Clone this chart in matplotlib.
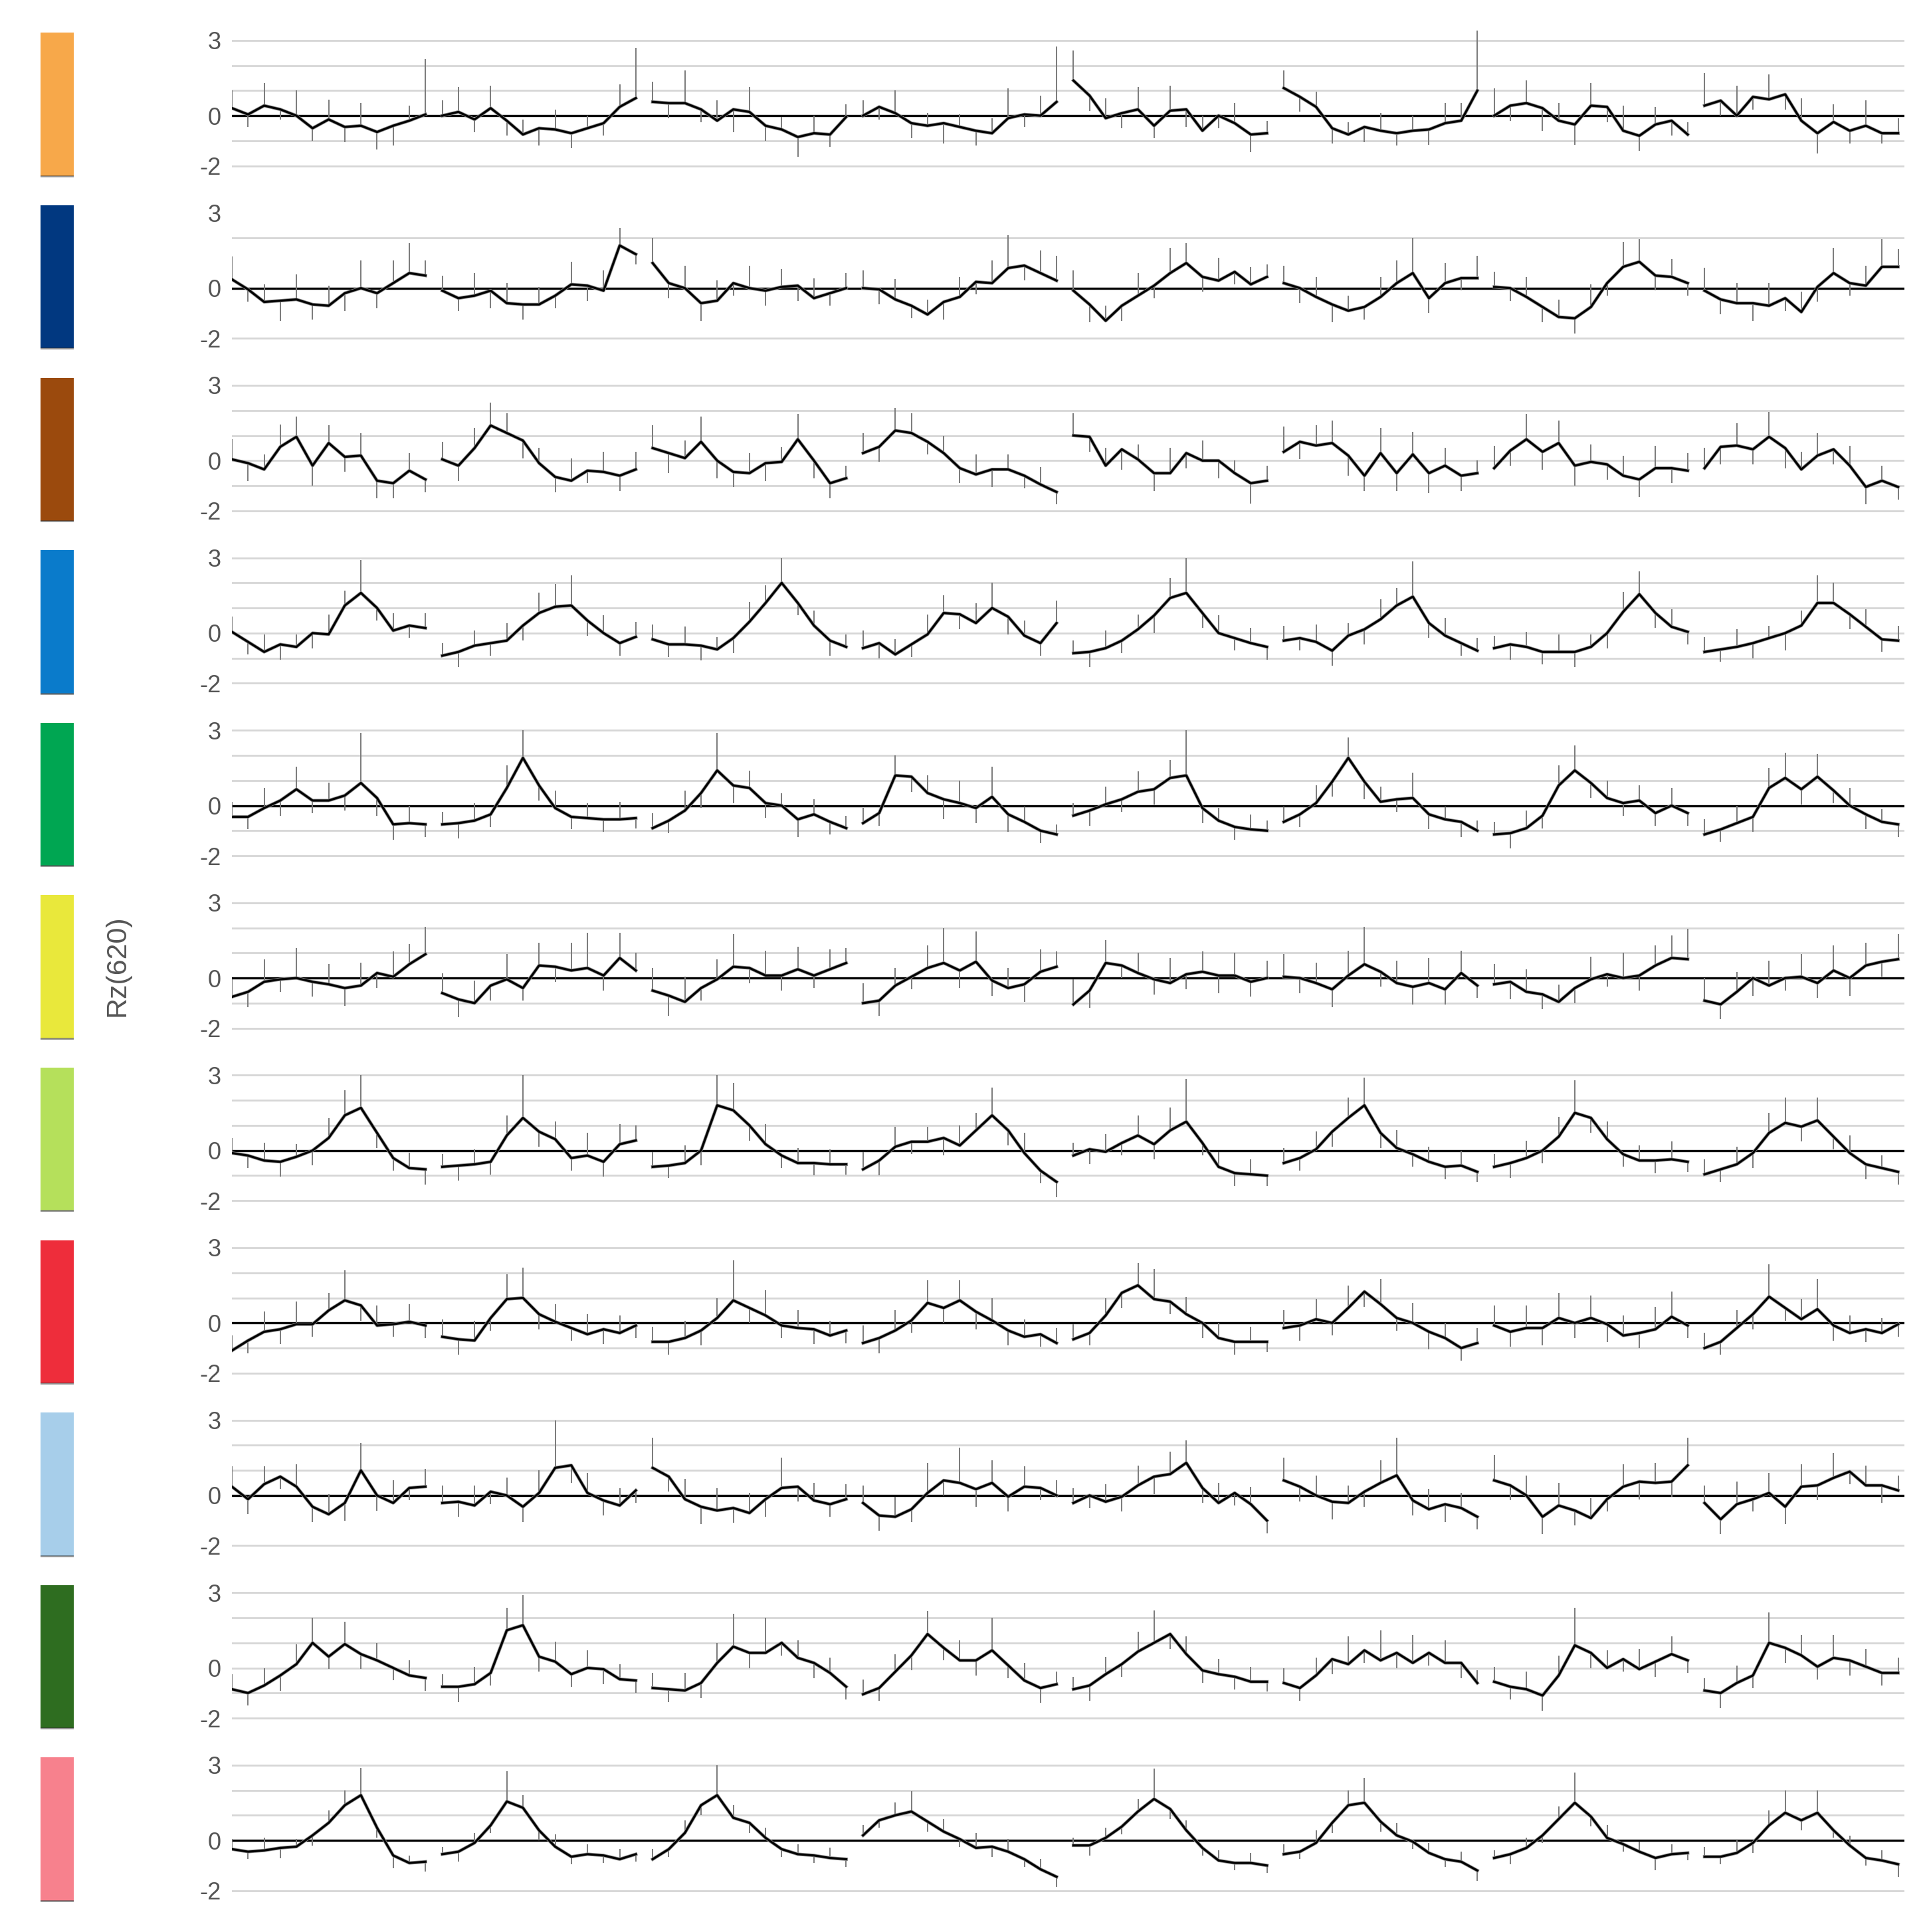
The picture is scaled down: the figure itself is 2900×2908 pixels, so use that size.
import numpy as np
import matplotlib.pyplot as plt

# colour key on the left, one per row
bar_colors = ['#F7A84A', '#013880', '#9B4A0D', '#0A7BCB', '#00A652', '#E9E83B',
              '#B5E05B', '#EE2D3B', '#A7CEEA', '#2E6D20', '#F7818D']
zero_black = [True, True, False, False, True, True, True, True, True, False, True]
grid_levels = [[3, 2, 1, -1, -2], [2, -2], [3, 2, 1, 0, -1, -2], [3, 2, 1, 0, -1, -2],
               [3, 2, 1, -1, -2], [3, 2, 1, -1, -2], [3, 2, 1, -1, -2], [3, 2, 1, -1, -2],
               [3, 2, 1, -2], [3, 2, 1, 0, -1, -2], [3, 2, 1, -2]]
ytick_vals = [3, 0, -2]
ytick_text = ['3', '0', '-2']

# smoothed Rz(620), 8 trials per row, 13 samples per trial
rz_orange = [[0.3, 0.05, 0.4, 0.25, 0.0, -0.5, -0.15, -0.45, -0.4, -0.65, -0.4, -0.2, 0.05],
             [0.0, 0.15, -0.15, 0.3, -0.2, -0.75, -0.5, -0.55, -0.7, -0.5, -0.3, 0.35, 0.7],
             [0.55, 0.5, 0.5, 0.25, -0.2, 0.25, 0.15, -0.4, -0.55, -0.85, -0.7, -0.75, -0.05],
             [0.0, 0.35, 0.1, -0.3, -0.4, -0.3, -0.45, -0.6, -0.7, -0.1, 0.05, 0.0, 0.55],
             [1.4, 0.8, -0.1, 0.1, 0.25, -0.4, 0.2, 0.25, -0.6, 0.0, -0.3, -0.75, -0.7],
             [1.1, 0.75, 0.35, -0.5, -0.75, -0.45, -0.6, -0.7, -0.6, -0.55, -0.3, -0.2, 1.0],
             [0.0, 0.4, 0.5, 0.3, -0.2, -0.35, 0.4, 0.35, -0.6, -0.8, -0.35, -0.2, -0.75],
             [0.4, 0.6, 0.0, 0.75, 0.65, 0.85, -0.2, -0.7, -0.25, -0.6, -0.4, -0.7, -0.7]]
rz_navy = [[0.35, -0.05, -0.55, -0.5, -0.45, -0.65, -0.7, -0.2, 0.0, -0.2, 0.2, 0.6, 0.5],
           [-0.1, -0.4, -0.3, -0.1, -0.6, -0.65, -0.65, -0.3, 0.15, 0.1, -0.1, 1.7, 1.35],
           [1.0, 0.2, 0.0, -0.6, -0.5, 0.2, 0.0, -0.1, 0.05, 0.1, -0.4, -0.2, 0.0],
           [0.0, -0.05, -0.45, -0.7, -1.05, -0.55, -0.35, 0.25, 0.2, 0.8, 0.9, 0.6, 0.3],
           [-0.1, -0.65, -1.3, -0.7, -0.3, 0.1, 0.6, 1.0, 0.45, 0.3, 0.65, 0.15, 0.45],
           [0.2, 0.0, -0.35, -0.65, -0.9, -0.75, -0.35, 0.2, 0.6, -0.4, 0.2, 0.4, 0.4],
           [0.05, 0.0, -0.35, -0.75, -1.15, -1.2, -0.75, 0.2, 0.85, 1.05, 0.5, 0.45, 0.2],
           [-0.1, -0.45, -0.6, -0.6, -0.7, -0.4, -0.95, 0.05, 0.6, 0.2, 0.1, 0.85, 0.85]]
rz_brown = [[0.05, -0.1, -0.35, 0.55, 0.95, -0.2, 0.7, 0.15, 0.2, -0.8, -0.9, -0.4, -0.75],
            [0.05, -0.2, 0.5, 1.4, 1.1, 0.8, -0.1, -0.65, -0.8, -0.4, -0.45, -0.6, -0.35],
            [0.5, 0.3, 0.1, 0.75, 0.0, -0.45, -0.5, -0.1, -0.05, 0.85, 0.0, -0.9, -0.7],
            [0.3, 0.55, 1.2, 1.1, 0.75, 0.3, -0.3, -0.55, -0.35, -0.35, -0.6, -0.95, -1.25],
            [1.0, 0.95, -0.2, 0.45, 0.05, -0.5, -0.5, 0.3, 0.0, 0.0, -0.5, -0.9, -0.8],
            [0.35, 0.75, 0.6, 0.7, 0.2, -0.6, 0.3, -0.5, 0.25, -0.5, -0.2, -0.6, -0.5],
            [-0.3, 0.4, 0.85, 0.35, 0.7, -0.2, -0.05, -0.15, -0.6, -0.75, -0.3, -0.3, -0.4],
            [-0.3, 0.55, 0.6, 0.45, 0.95, 0.5, -0.35, 0.2, 0.45, -0.2, -1.05, -0.8, -1.05]]
rz_blue = [[0.05, -0.35, -0.75, -0.45, -0.55, 0.0, -0.05, 1.1, 1.6, 1.0, 0.1, 0.3, 0.2],
           [-0.9, -0.75, -0.5, -0.4, -0.3, 0.3, 0.8, 1.05, 1.1, 0.5, 0.0, -0.4, -0.15],
           [-0.25, -0.45, -0.45, -0.5, -0.65, -0.2, 0.45, 1.2, 2.0, 1.2, 0.3, -0.3, -0.55],
           [-0.6, -0.4, -0.85, -0.45, -0.05, 0.8, 0.75, 0.4, 1.0, 0.65, -0.1, -0.4, 0.4],
           [-0.8, -0.75, -0.6, -0.3, 0.15, 0.7, 1.4, 1.6, 0.8, 0.0, -0.2, -0.4, -0.55],
           [-0.3, -0.2, -0.35, -0.7, -0.1, 0.15, 0.55, 1.1, 1.45, 0.4, -0.1, -0.4, -0.7],
           [-0.6, -0.45, -0.55, -0.75, -0.75, -0.75, -0.55, 0.0, 0.85, 1.55, 0.8, 0.25, 0.05],
           [-0.75, -0.65, -0.55, -0.4, -0.2, 0.0, 0.3, 1.2, 1.2, 0.75, 0.25, -0.25, -0.3]]
rz_green = [[-0.45, -0.45, -0.1, 0.2, 0.65, 0.2, 0.2, 0.4, 0.9, 0.3, -0.75, -0.7, -0.75],
            [-0.75, -0.7, -0.6, -0.35, 0.7, 1.9, 0.8, -0.1, -0.45, -0.5, -0.55, -0.55, -0.5],
            [-0.9, -0.6, -0.2, 0.5, 1.4, 0.8, 0.7, 0.1, 0.0, -0.55, -0.35, -0.65, -0.9],
            [-0.7, -0.3, 1.2, 1.15, 0.5, 0.25, 0.1, -0.1, 0.35, -0.35, -0.65, -1.0, -1.15],
            [-0.4, -0.2, 0.05, 0.25, 0.55, 0.65, 1.1, 1.2, -0.1, -0.6, -0.85, -0.95, -1.0],
            [-0.65, -0.35, 0.1, 0.95, 1.9, 0.95, 0.15, 0.25, 0.3, -0.35, -0.55, -0.65, -1.0],
            [-1.15, -1.1, -0.9, -0.4, 0.8, 1.4, 0.9, 0.3, 0.1, 0.2, -0.3, 0.0, -0.3],
            [-1.15, -0.95, -0.7, -0.45, 0.7, 1.1, 0.65, 1.15, 0.6, 0.0, -0.35, -0.65, -0.75]]
rz_yellow = [[-0.75, -0.55, -0.15, -0.05, 0.0, -0.15, -0.25, -0.4, -0.3, 0.2, 0.05, 0.55, 0.95],
             [-0.6, -0.85, -1.0, -0.3, -0.05, -0.4, 0.5, 0.45, 0.3, 0.4, 0.1, 0.8, 0.3],
             [-0.5, -0.7, -0.95, -0.4, -0.05, 0.45, 0.4, 0.1, 0.1, 0.35, 0.1, 0.35, 0.6],
             [-1.0, -0.9, -0.3, 0.05, 0.4, 0.6, 0.3, 0.65, -0.1, -0.4, -0.25, 0.25, 0.45],
             [-1.05, -0.5, 0.6, 0.5, 0.2, -0.05, -0.2, 0.15, 0.25, 0.1, 0.1, -0.15, 0.0],
             [0.05, 0.0, -0.2, -0.45, 0.1, 0.55, 0.25, -0.2, -0.35, -0.2, -0.45, 0.2, -0.3],
             [-0.25, -0.15, -0.55, -0.65, -0.95, -0.4, -0.05, 0.15, 0.0, 0.1, 0.5, 0.8, 0.75],
             [-0.9, -1.05, -0.55, 0.0, -0.3, 0.0, 0.05, -0.2, 0.3, 0.0, 0.5, 0.65, 0.75]]
rz_lime = [[-0.1, -0.2, -0.4, -0.45, -0.25, 0.0, 0.5, 1.4, 1.7, 0.7, -0.3, -0.7, -0.75],
           [-0.65, -0.6, -0.55, -0.45, 0.6, 1.3, 0.75, 0.45, -0.3, -0.2, -0.45, 0.25, 0.4],
           [-0.65, -0.6, -0.5, 0.0, 1.8, 1.6, 1.0, 0.25, -0.2, -0.5, -0.5, -0.55, -0.55],
           [-0.75, -0.4, 0.15, 0.35, 0.35, 0.5, 0.2, 0.8, 1.4, 0.8, -0.1, -0.8, -1.25],
           [-0.2, 0.05, -0.05, 0.3, 0.6, 0.25, 0.8, 1.15, 0.3, -0.65, -0.9, -0.95, -1.0],
           [-0.5, -0.3, 0.05, 0.75, 1.3, 1.8, 0.7, 0.1, -0.15, -0.45, -0.65, -0.6, -0.85],
           [-0.65, -0.5, -0.3, 0.0, 0.55, 1.5, 1.3, 0.45, -0.15, -0.4, -0.4, -0.35, -0.45],
           [-0.95, -0.75, -0.55, -0.1, 0.7, 1.1, 0.95, 1.2, 0.55, -0.1, -0.55, -0.7, -0.85]]
rz_red = [[-1.1, -0.7, -0.35, -0.25, -0.05, -0.05, 0.5, 0.9, 0.7, -0.1, -0.05, 0.05, -0.1],
          [-0.55, -0.65, -0.7, 0.2, 0.95, 1.0, 0.35, 0.05, -0.2, -0.45, -0.25, -0.4, -0.1],
          [-0.75, -0.75, -0.6, -0.3, 0.2, 0.9, 0.6, 0.3, -0.1, -0.2, -0.25, -0.5, -0.3],
          [-0.8, -0.6, -0.3, 0.1, 0.8, 0.6, 0.9, 0.45, 0.1, -0.3, -0.55, -0.45, -0.8],
          [-0.65, -0.4, 0.3, 1.2, 1.5, 0.95, 0.85, 0.35, 0.0, -0.6, -0.75, -0.75, -0.75],
          [-0.2, -0.1, 0.15, 0.0, 0.6, 1.25, 0.75, 0.2, 0.0, -0.35, -0.6, -1.0, -0.8],
          [-0.1, -0.35, -0.2, -0.2, 0.2, 0.0, 0.2, -0.05, -0.5, -0.4, -0.25, 0.25, -0.1],
          [-1.0, -0.75, -0.2, 0.35, 1.05, 0.6, 0.15, 0.55, -0.1, -0.4, -0.25, -0.4, -0.05]]
rz_skyblue = [[0.35, -0.15, 0.45, 0.75, 0.35, -0.45, -0.75, -0.3, 1.0, 0.0, -0.3, 0.3, 0.35],
              [-0.3, -0.25, -0.4, 0.15, 0.0, -0.45, 0.1, 1.1, 1.2, 0.1, -0.2, -0.4, 0.2],
              [1.1, 0.75, -0.15, -0.45, -0.6, -0.5, -0.7, -0.15, 0.3, 0.35, -0.2, -0.35, -0.15],
              [-0.3, -0.8, -0.85, -0.55, 0.1, 0.6, 0.5, 0.25, 0.5, -0.05, 0.35, 0.3, 0.0],
              [-0.3, 0.0, -0.25, -0.05, 0.4, 0.75, 0.85, 1.3, 0.3, -0.3, 0.1, -0.35, -1.0],
              [0.6, 0.35, 0.0, -0.25, -0.3, 0.15, 0.5, 0.8, -0.2, -0.55, -0.35, -0.5, -0.85],
              [0.6, 0.4, 0.0, -0.85, -0.4, -0.6, -0.9, -0.15, 0.35, 0.55, 0.5, 0.55, 1.2],
              [-0.3, -0.95, -0.35, -0.15, 0.1, -0.45, 0.35, 0.4, 0.7, 0.95, 0.4, 0.4, 0.2]]
rz_darkgreen = [[-0.85, -1.0, -0.7, -0.3, 0.15, 1.0, 0.45, 0.95, 0.55, 0.3, 0.0, -0.3, -0.4],
                [-0.75, -0.75, -0.65, -0.2, 1.5, 1.7, 0.45, 0.25, -0.25, 0.0, -0.05, -0.45, -0.5],
                [-0.8, -0.85, -0.9, -0.6, 0.2, 0.85, 0.6, 0.6, 1.0, 0.4, 0.2, -0.2, -0.75],
                [-1.05, -0.8, -0.15, 0.5, 1.35, 0.8, 0.3, 0.3, 0.7, 0.1, -0.5, -0.8, -0.65],
                [-0.85, -0.7, -0.25, 0.15, 0.65, 1.0, 1.35, 0.55, -0.1, -0.25, -0.35, -0.55, -0.55],
                [-0.6, -0.8, -0.3, 0.35, 0.15, 0.7, 0.3, 0.6, 0.2, 0.6, 0.2, 0.2, -0.6],
                [-0.55, -0.75, -0.85, -1.1, -0.3, 0.9, 0.6, 0.0, 0.35, -0.05, 0.25, 0.55, 0.3],
                [-0.9, -1.0, -0.6, -0.3, 1.0, 0.8, 0.5, 0.05, 0.4, 0.3, 0.05, -0.2, -0.2]]
rz_pink = [[-0.35, -0.45, -0.4, -0.3, -0.25, 0.2, 0.7, 1.4, 1.8, 0.5, -0.6, -0.9, -0.85],
           [-0.55, -0.45, -0.1, 0.6, 1.55, 1.3, 0.4, -0.25, -0.65, -0.55, -0.6, -0.75, -0.55],
           [-0.75, -0.35, 0.3, 1.4, 1.8, 0.9, 0.7, 0.1, -0.35, -0.55, -0.6, -0.7, -0.75],
           [0.2, 0.8, 1.0, 1.15, 0.75, 0.35, 0.05, -0.3, -0.25, -0.45, -0.75, -1.15, -1.45],
           [-0.2, -0.2, 0.1, 0.55, 1.15, 1.65, 1.25, 0.4, -0.3, -0.8, -0.9, -0.9, -1.0],
           [-0.55, -0.45, -0.1, 0.7, 1.4, 1.5, 0.75, 0.2, -0.05, -0.5, -0.75, -0.85, -1.2],
           [-0.7, -0.55, -0.3, 0.2, 0.85, 1.5, 0.95, 0.1, -0.15, -0.45, -0.7, -0.55, -0.5],
           [-0.65, -0.65, -0.5, -0.1, 0.6, 1.1, 0.8, 1.1, 0.4, -0.2, -0.7, -0.8, -0.95]]

# raw trace spikes around the smoothed curve, in tenths of a unit
spk_orange = [[7, -5, 9, -4, 10, -5, 8, -6, 9, -7, -8, 6, 22], [6, 10, -5, 9, -6, 6, -7, 8, -6, 5, -5, 9, 20],
              [8, -6, 13, -5, 8, -9, 10, -6, 5, -8, 7, -5, 5], [6, -5, 9, -6, 5, -8, 5, -6, 6, 12, -5, 8, 22],
              [12, -6, 8, -6, 9, -5, 10, -7, 6, -5, 8, -7, 5], [7, -6, 6, -6, 5, -6, 7, -5, 6, -6, 8, 7, 24],
              [11, -6, 9, -9, 7, -8, 9, -6, 10, -6, 7, -6, 5], [13, -6, 12, -5, 10, -6, 9, -8, 7, -5, 10, -4, 6]]
spk_navy = [[9, -5, 7, -8, 10, -6, 8, -7, 11, -6, 9, 12, 6], [6, -5, 9, -7, 8, -6, 7, -5, 9, -6, 8, 7, -4],
            [10, -6, 9, -7, 8, -5, 9, -6, 7, -6, 8, -5, 6], [7, -6, 8, -5, 6, -7, 8, -5, 9, 13, -6, 9, 10],
            [8, -7, 6, -6, 9, -5, 10, 8, -6, 9, -5, 7, 5], [7, -6, 8, -7, 6, -5, 8, 9, 14, -6, 8, -5, 9],
            [6, -5, 8, -6, 7, -6, 9, -5, 10, 9, -6, 7, -5], [9, -6, 8, -7, 9, -5, 8, -6, 10, -5, 8, 11, 7]]
spk_brown = [[8, -7, 6, 9, 8, -8, 7, -6, 9, -7, -6, 7, -5], [7, -6, 8, 9, 8, -7, 6, -6, 9, -5, 8, -6, 7],
             [9, -8, 7, 10, -7, -6, 8, -7, 6, 10, -7, -6, 5], [8, -6, 9, 8, -5, 7, -6, 8, -7, 6, -5, 7, -5],
             [9, -6, 7, -8, 6, -7, 10, -6, 8, -7, 5, -8, 6], [10, -7, 8, 9, -8, -6, 10, -7, 9, -8, 7, -6, 5],
             [9, -6, 10, -7, 9, -8, 7, -6, 8, -7, 9, -6, 7], [8, -7, 9, -6, 10, -8, 7, 9, -6, 8, -7, 6, -5]]
spk_blue = [[6, -5, 7, -6, 5, -6, 8, 6, 13, -5, 7, -5, 6], [5, -6, 6, -5, 7, -6, 8, 9, 12, -6, 7, -5, 6],
            [6, -5, 7, -6, 5, -6, 8, 7, 10, -5, 6, -6, 5], [7, -6, 6, -5, 8, 7, -6, 8, 10, -7, 6, -5, 9],
            [5, -6, 7, -5, 6, -7, 8, 14, -6, 7, -5, 6, -5], [6, -5, 7, -6, 5, -6, 8, 7, 14, -6, 7, -5, 5],
            [5, -6, 6, -5, 7, -6, 5, -6, 8, 9, -6, 7, -5], [6, -5, 7, -6, 5, -7, 6, 11, 8, -6, 7, -5, 6]]
spk_green = [[6, -5, 8, -6, 9, -5, 7, -6, 20, -7, -6, 7, -5], [5, -6, 7, -5, 9, 11, -6, 7, -5, 6, -5, 7, -4],
             [6, -5, 8, -6, 15, -7, 7, -6, 5, -7, 6, -5, 5], [6, -5, 8, -6, 7, -8, 9, -6, 12, -7, 6, -5, 4],
             [5, -6, 7, -5, 8, -6, 7, 18, -6, 5, -5, 6, 4], [6, -5, 7, -6, 8, -7, 6, -5, 10, -6, 5, -6, 4],
             [5, -6, 7, -5, 8, 10, -6, 7, -5, 6, -5, 7, -5], [6, -5, 7, -6, 8, 10, -6, 9, -5, 7, -6, 5, -5]]
spk_yellow = [[7, -6, 9, -5, 12, -6, 8, -7, 9, -6, 10, 8, 11], [8, -7, 9, -6, 10, -5, 9, -6, 11, 14, -6, 10, 7],
              [9, -8, 10, -5, 8, 13, -6, 10, -6, 9, -5, 8, 6], [8, -6, 7, -5, 9, 14, -7, 12, -6, 8, -7, 9, 6],
              [10, -7, 9, -5, 8, -6, 10, -6, 8, -7, 9, -6, 7], [9, -6, 8, -7, 10, 15, -6, 9, -7, 10, -6, 9, -5],
              [8, -7, 9, -6, 7, -6, 9, -5, 10, -6, 8, 9, 12], [9, -6, 8, -7, 10, -5, 9, -6, 10, -7, 9, -6, 10]]
spk_lime = [[6, -5, 7, -6, 5, -6, 8, 10, 13, -6, -5, 6, -6], [5, -6, 6, -5, 8, 17, -6, 7, -5, 9, -6, 8, 6],
            [6, -5, 7, -6, 12, 11, -6, 8, -5, 6, -5, 6, -4], [7, -6, 8, -5, 6, -7, 8, 7, 11, -6, 8, -5, -6],
            [5, -6, 7, -5, 8, -6, 9, 17, -5, 6, -5, 6, -4], [6, -5, 7, -6, 8, 11, -6, 7, -5, 6, -5, 6, -4],
            [5, -6, 7, -5, 8, 13, -6, 7, -5, 6, -5, 7, -4], [6, -5, 7, -6, 8, 10, -6, 9, -5, 7, -6, 5, -5]]
spk_red = [[6, -5, 8, -6, 9, -5, 7, 12, -6, 8, -5, 7, -5], [7, -6, 8, -5, 10, 12, -6, 7, -5, 8, -6, 7, -5],
           [6, -5, 7, -6, 8, 16, -6, 10, -5, 7, -6, 6, -5], [7, -6, 8, -5, 9, -6, 8, -7, 9, -6, 7, -5, 6],
           [6, -5, 7, -6, 9, 12, -5, 7, -6, 6, -5, 6, -4], [7, -6, 8, -5, 9, -6, 10, -5, 8, -7, 6, -5, 6],
           [8, -6, 9, -7, 10, -6, 9, -7, 8, -6, 9, 10, -5], [6, -5, 7, -6, 13, -5, 8, 12, -6, 7, -5, 6, -5]]
spk_skyblue = [[8, -6, 7, -5, 9, -6, 8, -7, 11, -6, 9, -5, 7], [7, -6, 8, -5, 7, -6, 9, 19, -7, 8, -6, 7, -5],
               [12, -6, 8, -7, 9, -6, 8, -7, 12, -6, 7, -5, 6], [7, -6, 8, -5, 12, -6, 14, -7, 9, -6, 8, -5, 6],
               [6, -5, 7, -6, 8, -7, 9, 9, -6, 8, -5, 7, -5], [9, -6, 8, -7, 7, -6, 9, 15, -6, 8, -7, 6, -5],
               [10, -6, 8, -7, 9, -6, 8, -5, 9, -7, 8, -6, 11], [7, -6, 9, -5, 8, -7, 9, -6, 10, -5, 8, -7, 6]]
spk_darkgreen = [[6, -5, 7, -6, 8, 10, -5, 9, -6, 7, -5, 6, -5], [5, -6, 7, -5, 9, 12, -6, 8, -5, 7, -6, 6, -5],
                 [6, -5, 7, -6, 8, 13, -6, 14, -5, 7, -6, 6, -5], [6, -5, 7, -6, 9, -5, 8, -6, 13, -5, 7, -6, 5],
                 [5, -6, 7, -5, 8, 13, -6, 7, -5, 6, -5, 6, -4], [6, -5, 7, -6, 11, -5, 12, -6, 11, -5, 9, -6, 5],
                 [6, -5, 7, -6, 8, 15, -6, 7, -5, 8, -6, 7, -5], [5, -6, 7, -5, 12, -6, 8, -5, 9, -6, 7, -5, 6]]
spk_pink = [[4, -3, 5, -4, 3, -4, 5, 6, 11, -4, -5, 3, -4], [3, -4, 4, -3, 12, 5, -4, 5, -3, 4, -3, 4, -3],
            [4, -3, 5, -4, 12, 5, -4, 4, -3, 4, -3, 4, -3], [4, -3, 5, 8, -4, 5, -3, 6, -4, 5, -3, 4, -4],
            [3, -4, 4, -3, 5, 12, -4, 4, -3, 4, -3, 4, -3], [4, -3, 5, -4, 6, 10, -4, 5, -3, 4, -3, 4, -4],
            [3, -4, 4, -3, 5, 12, -4, 5, -3, 4, -5, 4, -3], [4, -3, 5, -4, 6, 9, -4, 9, -3, 4, -3, 4, -5]]

smooth_rows = [rz_orange, rz_navy, rz_brown, rz_blue, rz_green, rz_yellow,
               rz_lime, rz_red, rz_skyblue, rz_darkgreen, rz_pink]
spike_rows = [spk_orange, spk_navy, spk_brown, spk_blue, spk_green, spk_yellow,
              spk_lime, spk_red, spk_skyblue, spk_darkgreen, spk_pink]

plt.rcParams['font.family'] = ['Liberation Sans Narrow', 'Liberation Sans', 'DejaVu Sans']

W, H = 2900, 2908
fig = plt.figure(figsize=(W / 100, H / 100), dpi=100)

row_h = 259.6          # pixels per row
top_off = 25.6         # pixels above first row
x0, x1 = 349 / W, 2866 / W
trial_len = 0.92
ylim = (-2.94, 3.93)

for i in range(len(smooth_rows)):
    bottom = 1 - (top_off + row_h * (i + 1)) / H
    ax = fig.add_axes([x0, bottom, x1 - x0, row_h / H])
    cax = fig.add_axes([61 / W, bottom, 50 / W, row_h / H])

    # colour key
    cax.bar(0, 5.7, bottom=-2.4, width=1.0, color=bar_colors[i], align='edge')
    cax.plot([0, 1], [-2.4, -2.4], color='#333333', lw=2.0, alpha=0.55)
    cax.set_xlim(0, 1)
    cax.set_ylim(*ylim)
    cax.axis('off')

    # grid
    for lv in grid_levels[i]:
        ax.axhline(lv, color='#d6d6d6', lw=2.0, zorder=0)
    if zero_black[i]:
        ax.axhline(0, color='black', lw=2.4, zorder=1)

    for k, (vals, spk) in enumerate(zip(smooth_rows[i], spike_rows[i])):
        x = k + np.linspace(0, trial_len, len(vals))
        v = np.array(vals)
        s = np.array(spk) / 10.0
        ax.vlines(x, v, v + s, color='#7a7a7a', lw=1.4, zorder=2)
        ax.plot(x, v, color='#8a8a8a', lw=3.6, zorder=2)
        ax.plot(x, v, color='black', lw=2.3, zorder=3)

    ax.set_xlim(0, 7.95)
    ax.set_ylim(*ylim)
    ax.set_xticks([])
    ax.set_yticks(ytick_vals)
    ax.set_yticklabels(ytick_text)
    ax.tick_params(axis='y', length=0, pad=12, labelsize=26, labelcolor='#555555')
    for sp in ax.spines.values():
        sp.set_visible(False)
    ax.patch.set_alpha(0)

fig.text(176 / W, 0.5, 'Rz(620)', rotation=90, ha='center', va='center',
         fontsize=31, color='#555555')

fig.savefig('out.png', dpi=100, facecolor='white')
